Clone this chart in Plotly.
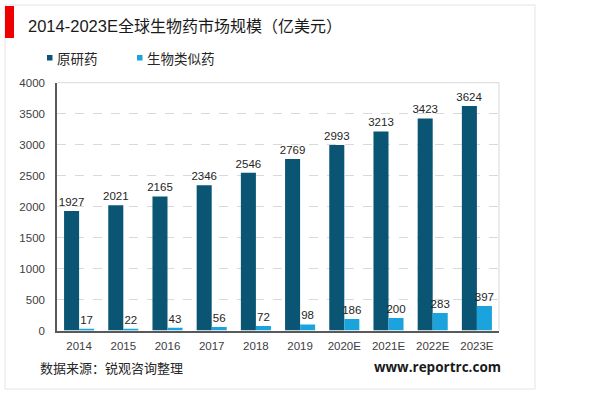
import plotly.graph_objects as go

categories = ["2014", "2015", "2016", "2017", "2018", "2019", "2020E", "2021E", "2022E", "2023E"]
original = [1927, 2021, 2165, 2346, 2546, 2769, 2993, 3213, 3423, 3624]
biosimilar = [17, 22, 43, 56, 72, 98, 186, 200, 283, 397]
series_names = ["原研药", "生物类似药"]
title_latin = "2014-2023E"
title_cjk = "全球生物药市场规模（亿美元）"
source_text = "数据来源：锐观咨询整理"
site_text = "www.reportrc.com"

W, H = 600, 394
FONT = "Liberation Sans, Arial, Noto Sans CJK SC, sans-serif"
CJK = "Noto Sans CJK SC, Liberation Sans, sans-serif"

x0, x1 = 57, 499
ytop, ybot = 82.7, 330.5

fig = go.Figure()
fig.add_trace(go.Bar(
    x=categories, y=original, name=series_names[0],
    marker=dict(color="#0a5474", line=dict(width=0)),
    text=[str(v) for v in original], textposition="outside",
    constraintext="none",
    textfont=dict(size=11.5, color="#262626", family=FONT),
    cliponaxis=False, hoverinfo="skip",
))
fig.add_trace(go.Bar(
    x=categories, y=biosimilar, name=series_names[1],
    marker=dict(color="#1aa3dc", line=dict(width=0)),
    text=[str(v) for v in biosimilar], textposition="outside",
    constraintext="none",
    textfont=dict(size=11.5, color="#262626", family=FONT),
    cliponaxis=False, hoverinfo="skip",
))

fig.update_layout(
    template="none",
    width=W, height=H,
    margin=dict(l=0, r=0, t=0, b=0, autoexpand=False),
    paper_bgcolor="white", plot_bgcolor="white",
    barmode="group", bargap=0.32, bargroupgap=0,
    showlegend=False,
    font=dict(family=FONT, color="#404040"),
    xaxis=dict(
        type="category",
        domain=[x0 / W, x1 / W],
        showline=True, linecolor="#595959", linewidth=1.5,
        ticks="", ticklabelstandoff=4,
        tickfont=dict(size=11.5, color="#404040"),
        showgrid=False, automargin=False,
    ),
    yaxis=dict(
        domain=[(H - ybot) / H, (H - ytop) / H],
        range=[0, 4000], tickvals=list(range(0, 4001, 500)),
        showline=True, linecolor="#595959", linewidth=1.5,
        ticks="", ticklabelstandoff=8,
        tickfont=dict(size=11.5, color="#404040"),
        showgrid=True, gridcolor="#d9d9d9", griddash="dash", gridwidth=1,
        zeroline=False, automargin=False,
    ),
)

shapes = [
    dict(type="rect", xref="paper", yref="paper",
         x0=5 / W, x1=535 / W, y0=(H - 389) / H, y1=(H - 5) / H,
         line=dict(color="#e3e3e3", width=1), fillcolor="rgba(0,0,0,0)", layer="below"),
    dict(type="rect", xref="paper", yref="paper",
         x0=5 / W, x1=14 / W, y0=(H - 38) / H, y1=(H - 6) / H,
         line=dict(width=0), fillcolor="#ee0000"),
    dict(type="line", xref="paper", yref="paper",
         x0=x0 / W, x1=x1 / W, y0=(H - ytop) / H, y1=(H - ytop) / H,
         line=dict(color="#d9d9d9", width=1)),
    dict(type="line", xref="paper", yref="paper",
         x0=x1 / W, x1=x1 / W, y0=(H - ybot) / H, y1=(H - ytop) / H,
         line=dict(color="#d9d9d9", width=1)),
    dict(type="rect", xref="paper", yref="paper",
         x0=47 / W, x1=52.5 / W, y0=(H - 60.5) / H, y1=(H - 55) / H,
         line=dict(width=0), fillcolor="#0a5474"),
    dict(type="rect", xref="paper", yref="paper",
         x0=137 / W, x1=142.5 / W, y0=(H - 60.5) / H, y1=(H - 55) / H,
         line=dict(width=0), fillcolor="#1aa3dc"),
]

title_html = (
    "<span style='font-family:Liberation Sans, Arial, sans-serif;font-size:16.5px'>"
    + title_latin + "</span>"
    + "<span style='font-family:Noto Sans CJK SC, sans-serif;font-size:16px'>"
    + title_cjk + "</span>"
)

annotations = [
    dict(text=title_html, xref="paper", yref="paper", x=26 / W, y=(H - 25) / H,
         xanchor="left", yanchor="middle", showarrow=False,
         font=dict(size=16, color="#1a1a1a", family=CJK)),
    dict(text=series_names[0], xref="paper", yref="paper", x=55 / W, y=(H - 58) / H,
         xanchor="left", yanchor="middle", showarrow=False,
         font=dict(size=13.5, color="#262626", family=CJK)),
    dict(text=series_names[1], xref="paper", yref="paper", x=145 / W, y=(H - 58) / H,
         xanchor="left", yanchor="middle", showarrow=False,
         font=dict(size=13.5, color="#262626", family=CJK)),
    dict(text=source_text, xref="paper", yref="paper", x=38 / W, y=(H - 367) / H,
         xanchor="left", yanchor="middle", showarrow=False,
         font=dict(size=13, color="#262626", family=CJK)),
    dict(text="<b>" + site_text + "</b>", xref="paper", yref="paper", x=503 / W, y=(H - 367) / H,
         xanchor="right", yanchor="middle", showarrow=False,
         font=dict(size=13.5, color="#1a1a1a", family="Open Sans, Liberation Sans, sans-serif")),
]

fig.update_layout(shapes=shapes, annotations=annotations)
fig.write_html("out.html", config={"displayModeBar": False},
               post_script="document.body.style.margin='0';")
